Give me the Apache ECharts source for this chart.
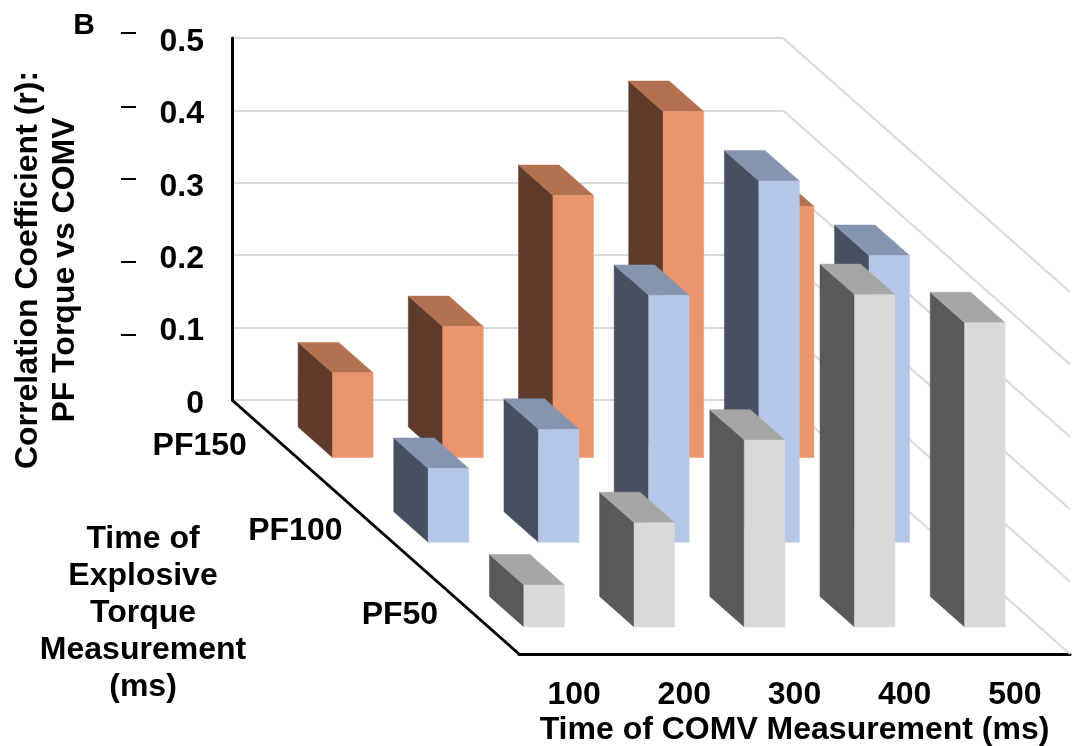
<!DOCTYPE html>
<html>
<head>
<meta charset="utf-8">
<style>html,body{margin:0;padding:0;background:#fff}#c{width:1072px;height:746px}</style>
<script src="https://cdn.jsdelivr.net/npm/echarts@6/dist/echarts.min.js"></script>
</head>
<body>
<div id="c"></div>
<script>
const comvTimes = ['100', '200', '300', '400', '500'];
const torqueTimes = ['PF150', 'PF100', 'PF50'];
const yTicks = [0, 0.1, 0.2, 0.3, 0.4, 0.5];
const pf150 = [0.117, 0.181, 0.362, 0.478, 0.347];
const pf100 = [0.102, 0.156, 0.341, 0.499, 0.396];
const pf50 = [0.058, 0.144, 0.258, 0.459, 0.420];

const FONT = '"Liberation Sans", Arial, sans-serif';
const FS = 32;
const DX = 287 / 3, DY = 254 / 3;   // oblique shift of one depth row
const palette = [
  { front: '#E9956E', side: '#5F3B2B', top: '#B3714F' },
  { front: '#B4C7E7', side: '#475060', top: '#8595B0' },
  { front: '#D9D9D9', side: '#595959', top: '#A6A6A6' }
];
const textStyle = { fontFamily: FONT, fontWeight: 'bold', fontSize: FS, fill: '#000' };

function barSeries(name, row, values) {
  const c = palette[row];
  return {
    name, type: 'custom', xAxisIndex: 0, yAxisIndex: 0, clip: false, z: 5 + row,
    encode: { x: 0, y: 1 },
    data: values.map((v, i) => [i, v]),
    renderItem(params, api) {
      const cat = api.value(0), val = api.value(1);
      const band = api.size([1, 0])[0];
      const p0 = api.coord([cat, 0]), p1 = api.coord([cat, val]);
      const xl = p0[0] - band / 2 + band * 0.322, xr = p0[0] - band / 2 + band * 0.69;
      const bs = [DX * (row + 0.32), DY * (row + 0.32)];
      const fs = [DX * (row + 0.68), DY * (row + 0.68)];
      const poly = (pts, fill) => ({
        type: 'polygon', shape: { points: pts },
        style: { fill, stroke: fill, lineWidth: 0.5 }
      });
      return {
        type: 'group',
        children: [
          poly([[xl + bs[0], p1[1] + bs[1]], [xl + fs[0], p1[1] + fs[1]], [xl + fs[0], p0[1] + fs[1]], [xl + bs[0], p0[1] + bs[1]]], c.side),
          poly([[xl + bs[0], p1[1] + bs[1]], [xr + bs[0], p1[1] + bs[1]], [xr + fs[0], p1[1] + fs[1]], [xl + fs[0], p1[1] + fs[1]]], c.top),
          poly([[xl + fs[0], p1[1] + fs[1]], [xr + fs[0], p1[1] + fs[1]], [xr + fs[0], p0[1] + fs[1]], [xl + fs[0], p0[1] + fs[1]]], c.front)
        ]
      };
    }
  };
}

const wallSeries = {
  type: 'custom', xAxisIndex: 0, yAxisIndex: 0, clip: false, z: 2, silent: true,
  encode: { y: 0 },
  data: yTicks.map(v => [v]),
  renderItem(params, api) {
    const band = api.size([1, 0])[0];
    const p = api.coord([comvTimes.length - 1, api.value(0)]);
    const x = p[0] + band / 2;
    return {
      type: 'line',
      shape: { x1: x, y1: p[1], x2: x + 3 * DX, y2: p[1] + 3 * DY },
      style: { stroke: '#D9D9D9', lineWidth: 2 }
    };
  }
};

const floorEdgeSeries = {
  type: 'custom', xAxisIndex: 0, yAxisIndex: 0, clip: false, z: 3, silent: true,
  encode: { x: 0, y: 1 },
  data: [[0, 0]],
  renderItem(params, api) {
    const band = api.size([1, 0])[0];
    const p = api.coord([0, 0]);
    const x = p[0] - band / 2;
    return {
      type: 'line',
      shape: { x1: x, y1: p[1], x2: x + 3 * DX, y2: p[1] + 3 * DY },
      style: { stroke: '#000', lineWidth: 3 }
    };
  }
};

const rowLabelSeries = {
  type: 'custom', xAxisIndex: 0, yAxisIndex: 0, clip: false, z: 8, silent: true,
  encode: { x: 0, y: 1 },
  data: torqueTimes.map((t, i) => [0, 0, i]),
  renderItem(params, api) {
    const band = api.size([1, 0])[0];
    const p = api.coord([0, 0]);
    const row = api.value(2);
    return {
      type: 'text',
      style: Object.assign({}, textStyle, {
        text: torqueTimes[row],
        x: p[0] - band / 2 + DX * (row + 0.5) - 33,
        y: p[1] + DY * (row + 0.5) + 4,
        textAlign: 'right', textVerticalAlign: 'middle'
      })
    };
  }
};

const dashYs = [33, 107, 179, 262, 335];
const graphics = dashYs.map(y => ({
  type: 'rect', shape: { x: 121, y: y - 1, width: 15, height: 2 }, style: { fill: '#000' }
}));
graphics.push(
  { type: 'text', x: 84, y: 26, style: Object.assign({}, textStyle, { text: 'B', fontSize: 30, textAlign: 'center', textVerticalAlign: 'middle' }) },
  { type: 'text', x: 47, y: 270, rotation: Math.PI / 2, style: Object.assign({}, textStyle, { text: 'Correlation Coefficient (r):\nPF Torque vs COMV', lineHeight: 37, textAlign: 'center', textVerticalAlign: 'middle' }) },
  { type: 'text', x: 143, y: 613, style: Object.assign({}, textStyle, { text: 'Time of\nExplosive\nTorque\nMeasurement\n(ms)', lineHeight: 37, textAlign: 'center', textVerticalAlign: 'middle' }) }
);

const chart = echarts.init(document.getElementById('c'), null, { renderer: 'canvas' });
chart.setOption({
  animation: false,
  backgroundColor: '#fff',
  grid: [
    { left: 232, top: 38, width: 551, height: 362, containLabel: false, outerBoundsMode: 'none' },
    { left: 519, top: 400, width: 551, height: 254, containLabel: false, outerBoundsMode: 'none' }
  ],
  xAxis: [
    { type: 'category', gridIndex: 0, data: comvTimes, axisLine: { show: false }, axisTick: { show: false }, axisLabel: { show: false }, splitLine: { show: false } },
    {
      type: 'category', gridIndex: 1, data: comvTimes,
      axisLine: { show: true, lineStyle: { color: '#000', width: 3 } }, axisTick: { show: false },
      axisLabel: { margin: 25, color: '#000', fontFamily: FONT, fontWeight: 'bold', fontSize: FS },
      name: 'Time of COMV Measurement (ms)', nameLocation: 'middle', nameGap: 60,
      nameTextStyle: { color: '#000', fontFamily: FONT, fontWeight: 'bold', fontSize: FS }
    }
  ],
  yAxis: [
    {
      type: 'value', gridIndex: 0, min: 0, max: 0.5, interval: 0.1,
      axisLine: { show: true, onZero: false, lineStyle: { color: '#000', width: 3 } }, axisTick: { show: false },
      axisLabel: { margin: 28, color: '#000', fontFamily: FONT, fontWeight: 'bold', fontSize: FS, verticalAlign: 'top', lineHeight: 8, formatter: v => v === 0 ? '0' : v.toFixed(1) },
      splitLine: { show: true, lineStyle: { color: '#D9D9D9', width: 2 } }
    },
    { type: 'value', gridIndex: 1, min: 0, max: 1, show: false }
  ],
  series: [
    wallSeries,
    floorEdgeSeries,
    barSeries(torqueTimes[0], 0, pf150),
    barSeries(torqueTimes[1], 1, pf100),
    barSeries(torqueTimes[2], 2, pf50),
    rowLabelSeries
  ],
  graphic: graphics
});
</script>
</body>
</html>
